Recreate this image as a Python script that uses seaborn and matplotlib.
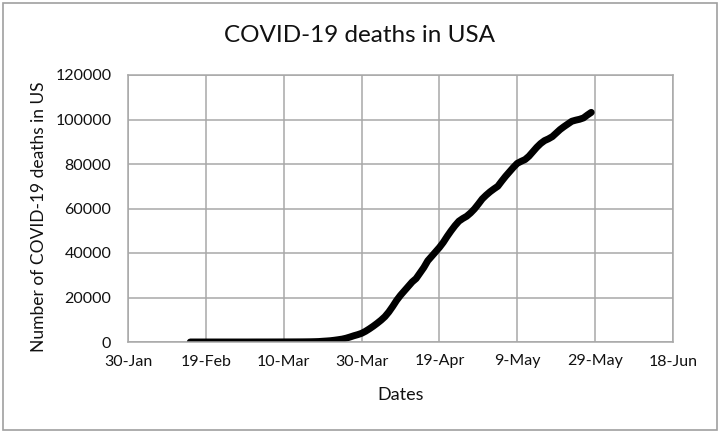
import matplotlib
matplotlib.use("Agg")
import matplotlib.pyplot as plt
from matplotlib.patches import Rectangle
import pandas as pd
import seaborn as sns

# ── Data ──────────────────────────────────────────────────────────────
start_date = "2020-02-15"
deaths = [
    # 15-Feb .. 29-Feb
    0, 0, 0, 0, 0, 0, 0, 0, 0, 0, 0, 0, 0, 0, 1,
    # March
    1, 6, 9, 11, 12, 15, 19, 22, 26, 31,
    38, 41, 48, 57, 68, 86, 109, 150, 207, 331,
    444, 578, 783, 1027, 1295, 1695, 2221, 2800, 3300, 3900, 4800,
    # April
    5900, 7100, 8400, 9800, 11400, 13500, 16000, 18700, 21000, 23000,
    25000, 27000, 28500, 31000, 33500, 36500, 38500, 40500, 42500, 44800,
    47500, 50000, 52300, 54300, 55500, 56500, 58000, 59800, 62000, 64300,
    # May 1 .. 28
    66000, 67500, 68800, 70000, 72300, 74500, 76500, 78500, 80300, 81200,
    82000, 83500, 85500, 87500, 89200, 90500, 91300, 92300, 93900, 95500,
    96800, 98000, 99200, 99700, 100100, 100700, 102000, 103200,
]
dates = pd.date_range(start_date, periods=len(deaths), freq="D")

x_start, x_end = "2020-01-30", "2020-06-18"
tick_dates = pd.date_range(x_start, x_end, freq="20D")
tick_labels = [f"{d.day}-{d.strftime('%b')}" for d in tick_dates]
y_ticks = [0, 20000, 40000, 60000, 80000, 100000, 120000]

title = "COVID-19 deaths in USA"
x_label = "Dates"
y_label = "Number of COVID-19 deaths in US"

# ── Plot ──────────────────────────────────────────────────────────────
sns.set_style("white")
plt.rcParams["font.family"] = ["Lato", "DejaVu Sans"]

grid_col = "#a8a8a8"
fig = plt.figure(figsize=(7.2, 4.33), dpi=100)
ax = fig.add_axes([128 / 720, 1 - 342 / 433, 545 / 720, 267 / 433])

df = pd.DataFrame({"date": dates, "deaths": deaths})
sns.lineplot(data=df, x="date", y="deaths", ax=ax, color="black",
             linewidth=5, solid_capstyle="round")

ax.set_xlim(pd.Timestamp(x_start), pd.Timestamp(x_end))
ax.set_ylim(0, 120000)
ax.set_xticks(tick_dates)
ax.set_xticklabels(tick_labels)
ax.set_yticks(y_ticks)
ax.set_yticklabels([str(v) for v in y_ticks])
ax.tick_params(axis="x", length=0, pad=9, labelsize=11.5, labelcolor="#111111")
ax.tick_params(axis="y", length=0, pad=12, labelsize=11.5, labelcolor="#111111")
ax.grid(True, color=grid_col, linewidth=1.1)
ax.set_axisbelow(True)
for sp in ax.spines.values():
    sp.set_visible(True)
    sp.set_color(grid_col)
    sp.set_linewidth(1.1)
ax.set_xlabel("")
ax.set_ylabel("")

fig.text(359 / 720, 1 - 36 / 433, title, ha="center", va="center",
         fontsize=17.5, color="#111111")
fig.text(400.5 / 720, 1 - 395 / 433, x_label, ha="center", va="center",
         fontsize=13, color="#111111")
fig.text(39 / 720, 1 - 217 / 433, y_label, ha="center", va="center",
         rotation=90, fontsize=12.5, color="#111111")

# chart-area border
fig.patches.append(Rectangle((3 / 720, 3 / 433), 714 / 720, 427 / 433,
                             transform=fig.transFigure, fill=False,
                             edgecolor="#a0a0a0", linewidth=1.2))

fig.savefig("out.png", dpi=100)
plt.close(fig)
